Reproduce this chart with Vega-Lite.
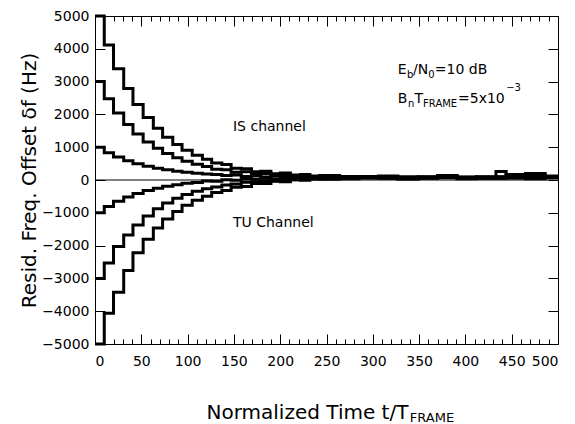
{
  "$schema": "https://vega.github.io/schema/vega-lite/v6.json",
  "width": 463,
  "height": 328,
  "autosize": {"type": "none"},
  "padding": {"left": 95, "top": 16, "right": 17, "bottom": 80},
  "config": {"view": {"stroke": "black"}, "axis": {"domain": false, "grid": false, "tickColor": "black", "tickOpacity": 1, "tickWidth": 1, "zindex": 2}},
  "datasets": {
    "curves": [
      {"c":"IS5000","t":0,"f":5000},{"c":"IS5000","t":10,"f":4114},{"c":"IS5000","t":20,"f":3388},{"c":"IS5000","t":31,"f":2793},{"c":"IS5000","t":41,"f":2304},{"c":"IS5000","t":52,"f":1904},{"c":"IS5000","t":63,"f":1576},{"c":"IS5000","t":73,"f":1307},{"c":"IS5000","t":84,"f":1086},{"c":"IS5000","t":94,"f":905},{"c":"IS5000","t":105,"f":756},{"c":"IS5000","t":116,"f":634},{"c":"IS5000","t":126,"f":520},{"c":"IS5000","t":137,"f":470},{"c":"IS5000","t":147,"f":360},{"c":"IS5000","t":158,"f":340},{"c":"IS5000","t":169,"f":250},{"c":"IS5000","t":179,"f":270},{"c":"IS5000","t":190,"f":190},{"c":"IS5000","t":200,"f":210},{"c":"IS5000","t":211,"f":150},{"c":"IS5000","t":222,"f":170},{"c":"IS5000","t":232,"f":120},{"c":"IS5000","t":243,"f":140},{"c":"IS5000","t":264,"f":110},{"c":"IS5000","t":285,"f":95},{"c":"IS5000","t":306,"f":120},{"c":"IS5000","t":327,"f":90},{"c":"IS5000","t":349,"f":100},{"c":"IS5000","t":370,"f":140},{"c":"IS5000","t":391,"f":85},{"c":"IS5000","t":412,"f":95},{"c":"IS5000","t":433,"f":90},{"c":"IS5000","t":444,"f":160},{"c":"IS5000","t":465,"f":180},{"c":"IS5000","t":486,"f":110},{"c":"IS5000","t":500,"f":110},
      {"c":"IS3000","t":0,"f":3000},{"c":"IS3000","t":10,"f":2474},{"c":"IS3000","t":20,"f":2043},{"c":"IS3000","t":31,"f":1690},{"c":"IS3000","t":41,"f":1400},{"c":"IS3000","t":52,"f":1162},{"c":"IS3000","t":63,"f":968},{"c":"IS3000","t":73,"f":808},{"c":"IS3000","t":84,"f":677},{"c":"IS3000","t":94,"f":569},{"c":"IS3000","t":105,"f":481},{"c":"IS3000","t":116,"f":409},{"c":"IS3000","t":126,"f":330},{"c":"IS3000","t":137,"f":310},{"c":"IS3000","t":147,"f":240},{"c":"IS3000","t":158,"f":250},{"c":"IS3000","t":169,"f":180},{"c":"IS3000","t":179,"f":200},{"c":"IS3000","t":190,"f":140},{"c":"IS3000","t":200,"f":160},{"c":"IS3000","t":211,"f":120},{"c":"IS3000","t":222,"f":140},{"c":"IS3000","t":232,"f":105},{"c":"IS3000","t":243,"f":120},{"c":"IS3000","t":264,"f":90},{"c":"IS3000","t":285,"f":110},{"c":"IS3000","t":306,"f":100},{"c":"IS3000","t":327,"f":80},{"c":"IS3000","t":349,"f":95},{"c":"IS3000","t":370,"f":120},{"c":"IS3000","t":391,"f":90},{"c":"IS3000","t":412,"f":80},{"c":"IS3000","t":433,"f":100},{"c":"IS3000","t":444,"f":150},{"c":"IS3000","t":465,"f":140},{"c":"IS3000","t":486,"f":100},{"c":"IS3000","t":500,"f":100},
      {"c":"IS1000","t":0,"f":1000},{"c":"IS1000","t":10,"f":834},{"c":"IS1000","t":20,"f":699},{"c":"IS1000","t":31,"f":587},{"c":"IS1000","t":41,"f":496},{"c":"IS1000","t":52,"f":421},{"c":"IS1000","t":63,"f":360},{"c":"IS1000","t":73,"f":309},{"c":"IS1000","t":84,"f":268},{"c":"IS1000","t":94,"f":234},{"c":"IS1000","t":105,"f":206},{"c":"IS1000","t":116,"f":184},{"c":"IS1000","t":126,"f":170},{"c":"IS1000","t":137,"f":140},{"c":"IS1000","t":147,"f":150},{"c":"IS1000","t":158,"f":110},{"c":"IS1000","t":169,"f":130},{"c":"IS1000","t":179,"f":95},{"c":"IS1000","t":190,"f":120},{"c":"IS1000","t":200,"f":85},{"c":"IS1000","t":211,"f":110},{"c":"IS1000","t":222,"f":80},{"c":"IS1000","t":232,"f":100},{"c":"IS1000","t":243,"f":85},{"c":"IS1000","t":264,"f":100},{"c":"IS1000","t":285,"f":80},{"c":"IS1000","t":306,"f":105},{"c":"IS1000","t":327,"f":95},{"c":"IS1000","t":349,"f":80},{"c":"IS1000","t":370,"f":110},{"c":"IS1000","t":391,"f":75},{"c":"IS1000","t":412,"f":100},{"c":"IS1000","t":433,"f":260},{"c":"IS1000","t":444,"f":170},{"c":"IS1000","t":465,"f":200},{"c":"IS1000","t":486,"f":120},{"c":"IS1000","t":500,"f":120},
      {"c":"TU1000","t":0,"f":-1000},{"c":"TU1000","t":10,"f":-806},{"c":"TU1000","t":20,"f":-646},{"c":"TU1000","t":31,"f":-516},{"c":"TU1000","t":41,"f":-408},{"c":"TU1000","t":52,"f":-320},{"c":"TU1000","t":63,"f":-248},{"c":"TU1000","t":73,"f":-189},{"c":"TU1000","t":84,"f":-141},{"c":"TU1000","t":94,"f":-101},{"c":"TU1000","t":105,"f":-80},{"c":"TU1000","t":116,"f":-30},{"c":"TU1000","t":126,"f":-40},{"c":"TU1000","t":137,"f":10},{"c":"TU1000","t":147,"f":-10},{"c":"TU1000","t":158,"f":40},{"c":"TU1000","t":169,"f":20},{"c":"TU1000","t":179,"f":60},{"c":"TU1000","t":190,"f":30},{"c":"TU1000","t":200,"f":70},{"c":"TU1000","t":211,"f":50},{"c":"TU1000","t":222,"f":80},{"c":"TU1000","t":232,"f":60},{"c":"TU1000","t":243,"f":70},{"c":"TU1000","t":264,"f":60},{"c":"TU1000","t":285,"f":80},{"c":"TU1000","t":306,"f":70},{"c":"TU1000","t":327,"f":60},{"c":"TU1000","t":349,"f":75},{"c":"TU1000","t":370,"f":90},{"c":"TU1000","t":391,"f":60},{"c":"TU1000","t":412,"f":70},{"c":"TU1000","t":433,"f":70},{"c":"TU1000","t":444,"f":80},{"c":"TU1000","t":465,"f":40},{"c":"TU1000","t":486,"f":90},{"c":"TU1000","t":500,"f":90},
      {"c":"TU3000","t":0,"f":-3000},{"c":"TU3000","t":10,"f":-2530},{"c":"TU3000","t":20,"f":-2030},{"c":"TU3000","t":31,"f":-1680},{"c":"TU3000","t":41,"f":-1370},{"c":"TU3000","t":52,"f":-1100},{"c":"TU3000","t":63,"f":-880},{"c":"TU3000","t":73,"f":-700},{"c":"TU3000","t":84,"f":-560},{"c":"TU3000","t":94,"f":-440},{"c":"TU3000","t":105,"f":-345},{"c":"TU3000","t":116,"f":-270},{"c":"TU3000","t":126,"f":-210},{"c":"TU3000","t":137,"f":-150},{"c":"TU3000","t":147,"f":-120},{"c":"TU3000","t":158,"f":-70},{"c":"TU3000","t":169,"f":-60},{"c":"TU3000","t":179,"f":-20},{"c":"TU3000","t":190,"f":-20},{"c":"TU3000","t":200,"f":20},{"c":"TU3000","t":211,"f":10},{"c":"TU3000","t":222,"f":40},{"c":"TU3000","t":232,"f":30},{"c":"TU3000","t":243,"f":50},{"c":"TU3000","t":264,"f":50},{"c":"TU3000","t":285,"f":70},{"c":"TU3000","t":306,"f":60},{"c":"TU3000","t":327,"f":40},{"c":"TU3000","t":349,"f":60},{"c":"TU3000","t":370,"f":80},{"c":"TU3000","t":391,"f":50},{"c":"TU3000","t":412,"f":60},{"c":"TU3000","t":433,"f":60},{"c":"TU3000","t":444,"f":70},{"c":"TU3000","t":465,"f":50},{"c":"TU3000","t":486,"f":80},{"c":"TU3000","t":500,"f":80},
      {"c":"TU5000","t":0,"f":-5000},{"c":"TU5000","t":10,"f":-4060},{"c":"TU5000","t":20,"f":-3420},{"c":"TU5000","t":31,"f":-2760},{"c":"TU5000","t":41,"f":-2217},{"c":"TU5000","t":52,"f":-1803},{"c":"TU5000","t":63,"f":-1464},{"c":"TU5000","t":73,"f":-1186},{"c":"TU5000","t":84,"f":-958},{"c":"TU5000","t":94,"f":-771},{"c":"TU5000","t":105,"f":-618},{"c":"TU5000","t":116,"f":-492},{"c":"TU5000","t":126,"f":-380},{"c":"TU5000","t":137,"f":-320},{"c":"TU5000","t":147,"f":-220},{"c":"TU5000","t":158,"f":-200},{"c":"TU5000","t":169,"f":-110},{"c":"TU5000","t":179,"f":-110},{"c":"TU5000","t":190,"f":-40},{"c":"TU5000","t":200,"f":-50},{"c":"TU5000","t":211,"f":10},{"c":"TU5000","t":222,"f":-10},{"c":"TU5000","t":232,"f":40},{"c":"TU5000","t":243,"f":20},{"c":"TU5000","t":264,"f":40},{"c":"TU5000","t":285,"f":60},{"c":"TU5000","t":306,"f":50},{"c":"TU5000","t":327,"f":30},{"c":"TU5000","t":349,"f":50},{"c":"TU5000","t":370,"f":70},{"c":"TU5000","t":391,"f":40},{"c":"TU5000","t":412,"f":50},{"c":"TU5000","t":433,"f":50},{"c":"TU5000","t":444,"f":60},{"c":"TU5000","t":465,"f":60},{"c":"TU5000","t":486,"f":70},{"c":"TU5000","t":500,"f":70}
    ],
    "zero": [{"t": 0, "f": 0}, {"t": 500, "f": 0}],
    "main": [
      {"t": 149, "f": 1490, "s": "IS channel"},
      {"t": 149, "f": -1440, "s": "TU Channel"},
      {"t": 327, "f": 3240, "s": "E"},
      {"t": 343.5, "f": 3240, "s": "/N"},
      {"t": 367, "f": 3240, "s": "=10 dB"},
      {"t": 327, "f": 2360, "s": "B"},
      {"t": 345, "f": 2360, "s": "T"},
      {"t": 392, "f": 2360, "s": "=5x10"}
    ],
    "sub": [
      {"t": 337, "f": 3120, "s": "b"},
      {"t": 360, "f": 3120, "s": "0"},
      {"t": 338, "f": 2240, "s": "n"},
      {"t": 354.3, "f": 2240, "s": "FRAME"},
      {"t": 444, "f": 2700, "s": "−3"}
    ],
    "title2": [
      {"t": 340, "f": -7363, "s": "FRAME"}
    ]
  },
  "resolve": {"axis": {"x": "independent", "y": "independent"}},
  "layer": [
    {
      "data": {"name": "curves"},
      "mark": {"type": "line", "interpolate": "step-after", "color": "black", "strokeWidth": 3},
      "encoding": {
        "x": {"field": "t", "type": "quantitative", "scale": {"domain": [0, 500], "nice": false},
          "axis": {"orient": "bottom", "tickCount": 10, "format": "d", "ticks": true, "tickSize": -10, "tickColor": "black", "zindex": 2, "labelFont": "DejaVu Sans", "labelColor": "black", "labelFontSize": 14, "labelPadding": 20, "title": "Normalized Time t/T", "titleFont": "DejaVu Sans", "titleFontWeight": "normal", "titleColor": "black", "titleFontSize": 20, "titleX": 111, "titleY": 74, "titleAlign": "left", "titleBaseline": "alphabetic"}},
        "y": {"field": "f", "type": "quantitative", "scale": {"domain": [-5000, 5000], "nice": false},
          "axis": {"orient": "left", "tickCount": 10, "format": "d", "ticks": true, "tickSize": -10, "tickColor": "black", "zindex": 2, "labelFont": "DejaVu Sans", "labelColor": "black", "labelFontSize": 14, "labelPadding": 16, "title": "Resid. Freq. Offset δf (Hz)", "titleFont": "DejaVu Sans", "titleFontWeight": "normal", "titleColor": "black", "titleFontSize": 20, "titleX": -66, "titleY": 164, "titleAngle": 270, "titleAlign": "center", "titleBaseline": "middle"}},
        "detail": {"field": "c", "type": "nominal"}
      }
    },
    {
      "data": {"name": "zero"},
      "mark": {"type": "line", "color": "black", "strokeWidth": 1},
      "encoding": {
        "x": {"field": "t", "type": "quantitative", "axis": {"orient": "bottom", "labels": false, "ticks": true, "tickCount": 50, "tickSize": -5, "tickColor": "black", "zindex": 2, "title": null}},
        "y": {"field": "f", "type": "quantitative", "axis": {"orient": "right", "labels": false, "ticks": true, "tickCount": 10, "tickSize": -10, "tickColor": "black", "zindex": 2, "title": null}}
      }
    },
    {
      "data": {"name": "main"},
      "mark": {"type": "text", "align": "left", "baseline": "alphabetic", "fontSize": 14, "font": "DejaVu Sans", "color": "black"},
      "encoding": {
        "x": {"field": "t", "type": "quantitative", "axis": {"orient": "top", "labels": false, "ticks": true, "tickCount": 50, "tickSize": -5, "tickColor": "black", "zindex": 2, "title": null}},
        "y": {"field": "f", "type": "quantitative", "axis": null},
        "text": {"field": "s", "type": "nominal"}
      }
    },
    {
      "data": {"name": "sub"},
      "mark": {"type": "text", "align": "left", "baseline": "alphabetic", "fontSize": 10, "font": "DejaVu Sans", "color": "black"},
      "encoding": {
        "x": {"field": "t", "type": "quantitative", "axis": {"orient": "top", "labels": false, "ticks": true, "tickCount": 10, "tickSize": -10, "tickColor": "black", "zindex": 2, "title": null}},
        "y": {"field": "f", "type": "quantitative", "axis": null},
        "text": {"field": "s", "type": "nominal"}
      }
    },
    {
      "data": {"name": "title2"},
      "mark": {"type": "text", "align": "left", "baseline": "alphabetic", "fontSize": 13, "font": "DejaVu Sans", "color": "black"},
      "encoding": {
        "x": {"field": "t", "type": "quantitative", "axis": null},
        "y": {"field": "f", "type": "quantitative", "axis": null},
        "text": {"field": "s", "type": "nominal"}
      }
    }
  ]
}
